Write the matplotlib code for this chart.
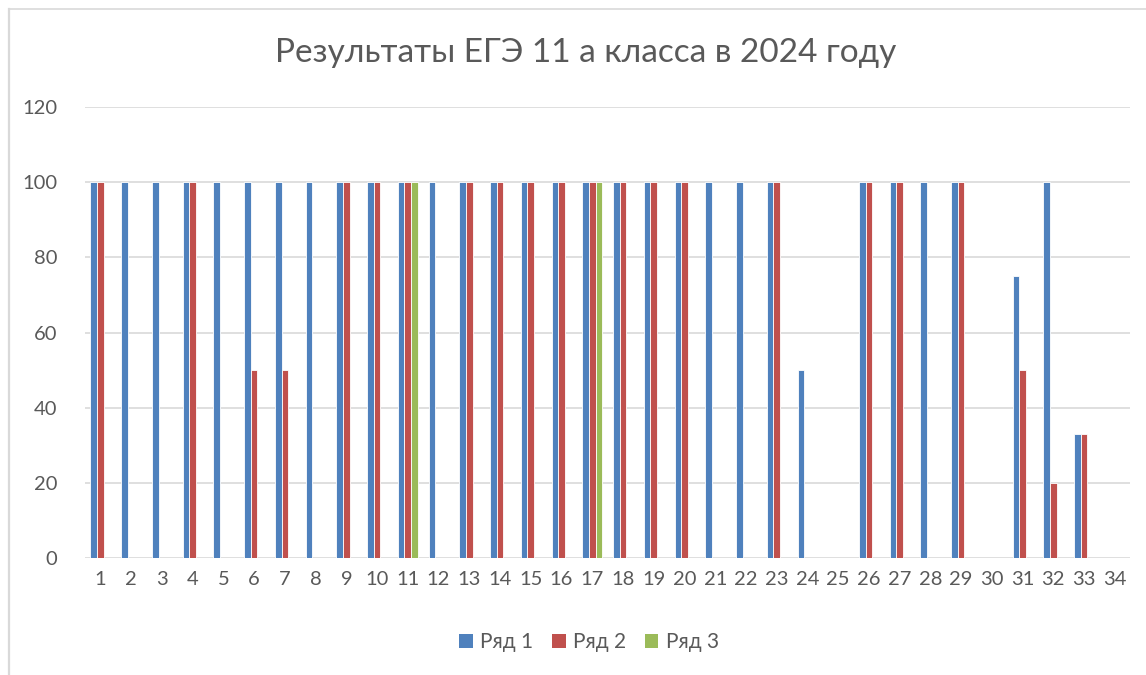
import matplotlib
matplotlib.use("Agg")
import matplotlib.pyplot as plt
import numpy as np
from matplotlib.lines import Line2D
from matplotlib.patches import Patch

categories = [str(i) for i in range(1, 35)]
series_names = ["Ряд 1", "Ряд 2", "Ряд 3"]
row1 = [100, 100, 100, 100, 100, 100, 100, 100, 100, 100, 100, 100, 100, 100, 100, 100, 100,
        100, 100, 100, 100, 100, 100, 50, 0, 100, 100, 100, 100, 0, 75, 100, 33, 0]
row2 = [100, 0, 0, 100, 0, 50, 50, 0, 100, 100, 100, 0, 100, 100, 100, 100, 100,
        100, 100, 100, 0, 0, 100, 0, 0, 100, 100, 0, 100, 0, 50, 20, 33, 0]
row3 = [0, 0, 0, 0, 0, 0, 0, 0, 0, 0, 100, 0, 0, 0, 0, 0, 100,
        0, 0, 0, 0, 0, 0, 0, 0, 0, 0, 0, 0, 0, 0, 0, 0, 0]
colors = ["#4F81BD", "#C0504D", "#9BBB59"]
yticks = [0, 20, 40, 60, 80, 100, 120]

plt.rcParams['font.family'] = ['Lato', 'DejaVu Sans']

W, H = 1146, 675
fig = plt.figure(figsize=(W / 100, H / 100), dpi=100)

# chart-area frame: only the left and top edges fall inside the image
fx, fy = 8.5 / W, 1 - 8.5 / H
fig.add_artist(Line2D([fx, fx], [0, fy], transform=fig.transFigure, color="#d9d9d9", linewidth=1.6))
fig.add_artist(Line2D([fx, 1], [fy, fy], transform=fig.transFigure, color="#d9d9d9", linewidth=1.2))

ax = fig.add_axes([0.0742, 0.1733, 0.912, 0.6682])

x = np.arange(1, len(categories) + 1)
w = 0.215
for i, (vals, c) in enumerate(zip([row1, row2, row3], colors)):
    ax.bar(x + (i - 1) * w, vals, width=w, color=c, edgecolor="white",
           linewidth=0.6, zorder=3)

ax.set_xlim(0.5, 34.5)
ax.set_ylim(0, 120)
ax.set_yticks(yticks)
ax.set_xticks(x)
ax.set_xticklabels(categories)
ax.grid(axis="y", color="#d9d9d9", linewidth=1.2, zorder=0)
for s in ax.spines.values():
    s.set_visible(False)
ax.tick_params(length=0, labelsize=14.5, labelcolor="#595959", pad=9)
ax.tick_params(axis="y", pad=20)

fig.text(0.511, 0.922, "Результаты ЕГЭ 11 а класса в 2024 году", ha="center", va="center",
         fontsize=24, color="#595959")

handles = [Patch(facecolor=c, edgecolor="none") for c in colors]
fig.legend(handles, series_names, loc="center", bbox_to_anchor=(0.514, 0.049), ncol=3,
           frameon=False, fontsize=15, labelcolor="#595959", handlelength=0.65,
           handleheight=0.65, handletextpad=0.35, columnspacing=0.9)

fig.savefig("out.png", dpi=100, facecolor="white")
